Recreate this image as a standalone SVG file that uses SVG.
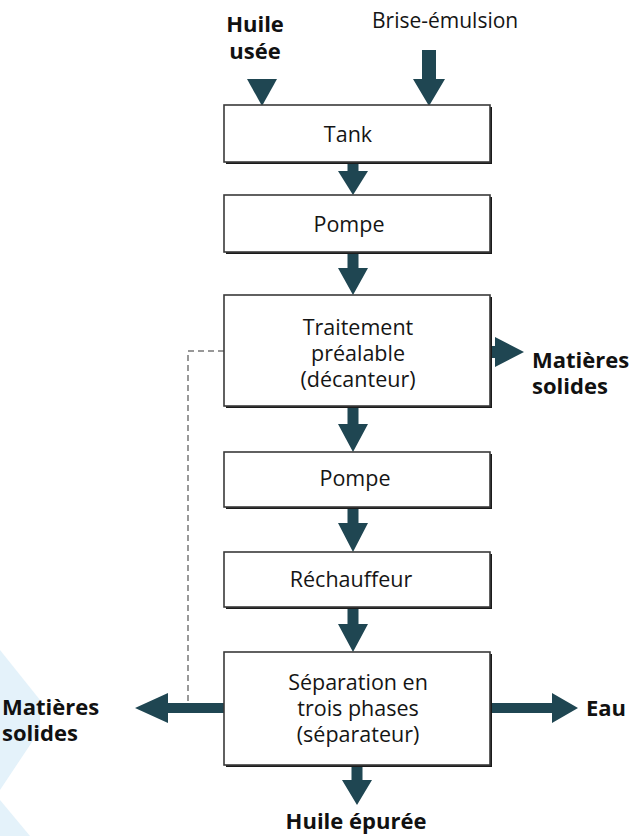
<svg xmlns="http://www.w3.org/2000/svg" width="644" height="836" viewBox="0 0 644 836">
<style>
.box{fill:#fff;stroke:#3a3a3a;stroke-width:1.6}
.sh{fill:#1a1a1a}
.t{font-family:"Open Sans","Liberation Sans",sans-serif;font-size:21.5px;fill:#151515;text-anchor:middle}
.ts{font-family:"Open Sans","Liberation Sans",sans-serif;font-size:21px;fill:#151515;text-anchor:start}
.b{font-family:"Open Sans","Liberation Sans",sans-serif;font-size:22px;font-weight:bold;fill:#111}
.bm{text-anchor:middle}
.arr{fill:#1f4652}
.dash{fill:none;stroke:#777;stroke-width:1.5;stroke-dasharray:6 4}
.deco{fill:#e4f2fa}
</style>
<rect width="644" height="836" fill="#fff"/>
<g id="deco">
<polygon class="deco" points="0,650 40,700 40,730 0,790"/>
<polygon class="deco" points="0,800 30,836 0,836"/>
</g>
<g id="connectors">
<path class="dash" d="M224,351 H188 V708"/>
<polygon class="arr" points="247,79 277,79 262,106"/>
<polygon class="arr" points="422,50 436,50 436,79 445,79 429,106 413,79 422,79"/>
<polygon class="arr" points="347.5,162 358.5,162 358.5,171 368,171 353,195 338,171 347.5,171"/>
<polygon class="arr" points="347.5,252 358.5,252 358.5,268 368,268 353,295 338,268 347.5,268"/>
<polygon class="arr" points="347.5,406 358.5,406 358.5,424 368,424 353,452 338,424 347.5,424"/>
<polygon class="arr" points="347.5,507 358.5,507 358.5,523 368,523 353,552 338,523 347.5,523"/>
<polygon class="arr" points="347.5,607 358.5,607 358.5,624 368,624 353,652 338,624 347.5,624"/>
<polygon class="arr" points="351.5,765 362.5,765 362.5,780 372,780 357,805 342,780 351.5,780"/>
<polygon class="arr" points="490,346 495,346 495,337 524,352 495,367 495,358 490,358"/>
<polygon class="arr" points="490,703 552,703 552,693 578,708 552,723 552,713 490,713"/>
<polygon class="arr" points="224,703 168,703 168,693 135,708 168,723 168,713 224,713"/>
</g>
<g id="tank">
<rect class="sh" x="226" y="107" width="266" height="57"/>
<rect class="box" x="224" y="105" width="266" height="57"/>
<text class="t" x="348" y="142">Tank</text>
</g>
<g id="pompe1">
<rect class="sh" x="226" y="197" width="266" height="57"/>
<rect class="box" x="224" y="195" width="266" height="57"/>
<text class="t" x="349" y="232">Pompe</text>
</g>
<g id="traitement">
<rect class="sh" x="226" y="297" width="266" height="111"/>
<rect class="box" x="224" y="295" width="266" height="111"/>
<text class="t" x="358" y="335">Traitement</text>
<text class="t" x="358" y="361">préalable</text>
<text class="t" x="358" y="387">(décanteur)</text>
</g>
<g id="pompe2">
<rect class="sh" x="226" y="454" width="266" height="55"/>
<rect class="box" x="224" y="452" width="266" height="55"/>
<text class="t" x="355" y="486">Pompe</text>
</g>
<g id="rechauffeur">
<rect class="sh" x="226" y="554" width="266" height="55"/>
<rect class="box" x="224" y="552" width="266" height="55"/>
<text class="t" x="351" y="587">Réchauffeur</text>
</g>
<g id="separation">
<rect class="sh" x="226" y="654" width="266" height="113"/>
<rect class="box" x="224" y="652" width="266" height="113"/>
<text class="t" x="358" y="690">Séparation en</text>
<text class="t" x="358" y="716">trois phases</text>
<text class="t" x="358" y="742">(séparateur)</text>
</g>
<g id="labels">
<text class="b bm" x="255" y="32">Huile</text>
<text class="b bm" x="255" y="59">usée</text>
<text class="ts" x="372" y="28">Brise-émulsion</text>
<text class="b" x="532" y="368">Matières</text>
<text class="b" x="532" y="394">solides</text>
<text class="b" x="2" y="715">Matières</text>
<text class="b" x="2" y="741">solides</text>
<text class="b" x="586" y="716">Eau</text>
<text class="b bm" x="356" y="829">Huile épurée</text>
</g>
</svg>
